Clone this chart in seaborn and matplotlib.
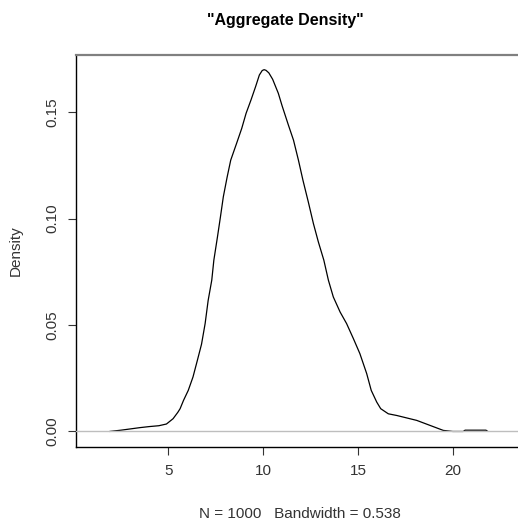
import numpy as np
import pandas as pd
import matplotlib
matplotlib.use('Agg')
import matplotlib.pyplot as plt
import seaborn as sns

# density curve (x value, density)
grid_x = [1.9, 2.5, 3.0, 3.5, 4.0, 4.5, 4.9, 5.25, 5.5, 5.62, 5.8, 6.05, 6.3, 6.53,
          6.75, 6.94, 7.1, 7.29, 7.4, 7.59, 7.75, 7.9, 8.1, 8.29, 8.6, 8.87, 9.1,
          9.36, 9.6, 9.8, 9.95, 10.05, 10.15, 10.3, 10.5, 10.8, 11.0, 11.33, 11.6,
          11.86, 12.1, 12.38, 12.65, 12.91, 13.2, 13.44, 13.7, 14.06, 14.4, 14.76,
          15.1, 15.46, 15.7, 15.99, 16.2, 16.6, 17.05, 18.1, 19.5, 20.0, 20.55,
          20.65, 21.75, 21.85]
density = [0.0, 0.0006, 0.0012, 0.0018, 0.0023, 0.0027, 0.0035, 0.0060, 0.0090,
           0.0107, 0.0146, 0.0193, 0.0256, 0.0334, 0.0410, 0.0507, 0.0616, 0.0711,
           0.0805, 0.0914, 0.1010, 0.1103, 0.1195, 0.1275, 0.1354, 0.1424, 0.1495,
           0.1558, 0.1620, 0.1675, 0.1696, 0.1700, 0.1697, 0.1685, 0.1655, 0.1589,
           0.1530, 0.1440, 0.1369, 0.1275, 0.1180, 0.1079, 0.0977, 0.0891, 0.0805,
           0.0711, 0.0632, 0.0561, 0.0507, 0.0436, 0.0366, 0.0272, 0.0193, 0.0138,
           0.0107, 0.0083, 0.0075, 0.0052, 0.0005, 0.0, 0.0, 0.0006, 0.0006, 0.0]

x_ticks = [5, 10, 15, 20]
y_ticks = [0.00, 0.05, 0.10, 0.15]
y_tick_labels = ['0.00', '0.05', '0.10', '0.15']

n_obs = 1000
bandwidth = 0.538

sns.set_style('white')
plt.rcParams['font.family'] = ['Liberation Sans', 'DejaVu Sans']

df = pd.DataFrame({'x': grid_x, 'density': density})

W, H = 518, 521
fig = plt.figure(figsize=(W / 100, H / 100), dpi=100, facecolor='white')
# plot box in pixels: left 76, right 518 (cut), top 55, bottom 447
ax = fig.add_axes([76 / W, (H - 447) / H, 442 / W, 392 / H])

sns.lineplot(data=df, x='x', y='density', color='black', lw=0.9, ax=ax)
ax.axhline(0, color='#bebebe', lw=1.0, zorder=5)

ax.set_xlim(0.13, 23.44)
ax.set_ylim(-0.0073, 0.1769)

ax.set_xticks(x_ticks)
ax.set_xticklabels([str(t) for t in x_ticks])
ax.set_yticks(y_ticks)
ax.set_yticklabels(y_tick_labels, rotation=90, va='center')
ax.tick_params(axis='both', direction='out', length=6, width=0.8, color='#333333',
               labelsize=11, labelcolor='#333333', pad=6)
ax.tick_params(axis='both', bottom=True, left=True)

for side in ['left', 'bottom']:
    ax.spines[side].set_color('black')
    ax.spines[side].set_linewidth(1.0)
ax.spines['top'].set_color('#808080')
ax.spines['top'].set_linewidth(1.6)
ax.spines['right'].set_visible(False)

ax.set_xlabel(f'N = {n_obs}   Bandwidth = {bandwidth}', fontsize=11, color='#333333')
ax.xaxis.set_label_coords((300 - 76) / 442, (447 - 514) / 392)
ax.xaxis.label.set_va('center')
ax.set_ylabel('Density', fontsize=11, color='#333333')
ax.yaxis.set_label_coords((16 - 76) / 442, 0.5)
ax.yaxis.label.set_va('center')

fig.text(285 / W, 1 - 20 / H, '"Aggregate Density"', ha='center', va='center',
         fontsize=11.5, fontweight='bold', color='black')

fig.savefig('out.png', dpi=100, facecolor='white')
